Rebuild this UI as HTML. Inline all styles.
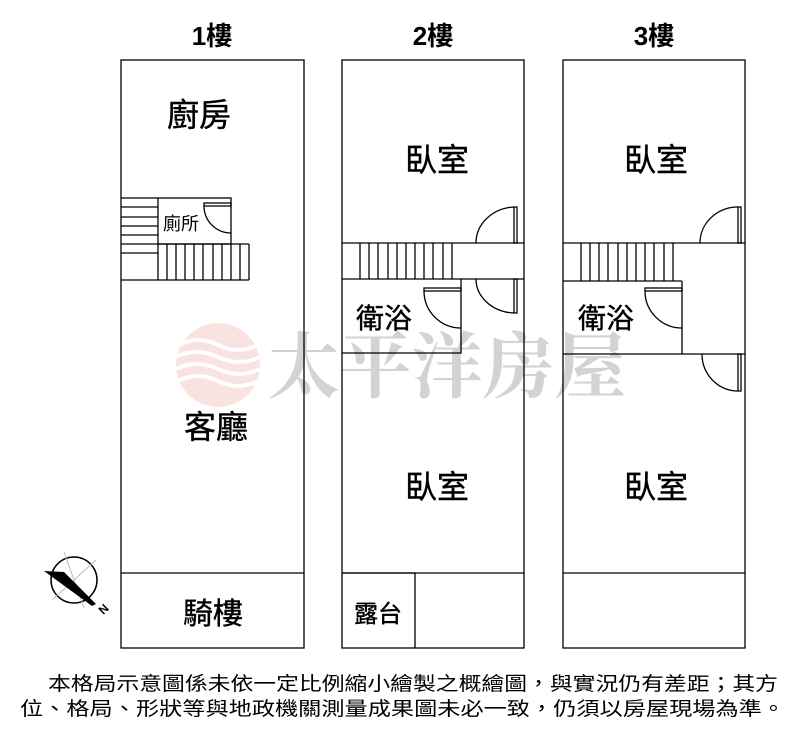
<!DOCTYPE html>
<html><head><meta charset="utf-8"><style>
html,body{margin:0;padding:0;background:#fff;}
svg{display:block;}
text{font-family:"Liberation Sans","Noto Sans CJK TC",sans-serif;fill:#000;}
</style></head><body>
<svg width="800" height="729" viewBox="0 0 800 729" xmlns="http://www.w3.org/2000/svg">
<!-- watermark -->
<g opacity="0.5">
  <circle cx="218" cy="365" r="42" fill="#f4c8c2"/>
  <g stroke="#fff" stroke-width="4" fill="none">
    <path d="M178 345 q20 -10 40 0 t40 0"/>
    <path d="M176 357 q20 -10 42 0 t42 0"/>
    <path d="M176 369 q20 -10 42 0 t42 0"/>
    <path d="M178 381 q20 -10 40 0 t40 0"/>
  </g>
  <text x="268" y="392" font-size="72" font-weight="bold" style="font-family:'Noto Serif CJK SC','Liberation Serif',serif;fill:#a8a8a8" textLength="358" lengthAdjust="spacingAndGlyphs">太平洋房屋</text>
</g>
<g stroke="#000" stroke-width="1.3" fill="none">
  <!-- 1F -->
  <rect x="121" y="60" width="183" height="588"/>
  <line x1="121" y1="573" x2="304" y2="573"/>
  <rect x="158" y="198" width="73" height="46"/>
  <line x1="121" y1="198" x2="158" y2="198"/>
  <line x1="121" y1="207" x2="158" y2="207"/>
  <line x1="121" y1="217" x2="158" y2="217"/>
  <line x1="121" y1="226" x2="158" y2="226"/>
  <line x1="121" y1="235" x2="158" y2="235"/>
  <line x1="121" y1="244" x2="249" y2="244"/>
  <line x1="121" y1="253" x2="158" y2="253"/>
  <line x1="121" y1="280" x2="249" y2="280"/>
  <line x1="249" y1="244" x2="249" y2="280"/>
  <g>
    <line x1="158" y1="244" x2="158" y2="280"/><line x1="167" y1="244" x2="167" y2="280"/><line x1="176" y1="244" x2="176" y2="280"/><line x1="185" y1="244" x2="185" y2="280"/><line x1="194" y1="244" x2="194" y2="280"/><line x1="203" y1="244" x2="203" y2="280"/><line x1="213" y1="244" x2="213" y2="280"/><line x1="222" y1="244" x2="222" y2="280"/><line x1="231" y1="244" x2="231" y2="280"/><line x1="240" y1="244" x2="240" y2="280"/>
  </g>
  <rect x="204" y="203" width="27" height="3"/>
  <path d="M204 206 A27 27 0 0 0 231 233"/>
  <!-- 2F -->
  <rect x="342" y="60" width="182" height="588"/>
  <line x1="342" y1="573" x2="524" y2="573"/>
  <polyline points="342,573 415,573 415,648"/>
  <line x1="342" y1="243" x2="524" y2="243"/>
  <line x1="342" y1="279" x2="524" y2="279"/>
  <line x1="452" y1="243" x2="452" y2="279"/>
  <g>
    <line x1="360" y1="243" x2="360" y2="279"/><line x1="369" y1="243" x2="369" y2="279"/><line x1="378" y1="243" x2="378" y2="279"/><line x1="388" y1="243" x2="388" y2="279"/><line x1="397" y1="243" x2="397" y2="279"/><line x1="406" y1="243" x2="406" y2="279"/><line x1="415" y1="243" x2="415" y2="279"/><line x1="424" y1="243" x2="424" y2="279"/><line x1="433" y1="243" x2="433" y2="279"/><line x1="443" y1="243" x2="443" y2="279"/>
  </g>
  <polyline points="461,279 461,353 342,353"/>
  <rect x="514" y="207" width="3" height="36"/>
  <path d="M476 243 A40 36 0 0 1 514 207"/>
  <rect x="514" y="279" width="3" height="34"/>
  <path d="M476 279 A40 34 0 0 0 514 313"/>
  <rect x="424" y="288" width="37" height="3"/>
  <path d="M424 291 A37 37 0 0 0 461 328"/>
  <!-- 3F -->
  <rect x="563" y="60" width="182" height="588"/>
  <line x1="563" y1="573" x2="745" y2="573"/>
  <line x1="563" y1="243" x2="745" y2="243"/>
  <line x1="563" y1="281" x2="682" y2="281"/>
  <line x1="673" y1="243" x2="673" y2="281"/>
  <g>
    <line x1="581" y1="243" x2="581" y2="281"/><line x1="590" y1="243" x2="590" y2="281"/><line x1="599" y1="243" x2="599" y2="281"/><line x1="608" y1="243" x2="608" y2="281"/><line x1="618" y1="243" x2="618" y2="281"/><line x1="627" y1="243" x2="627" y2="281"/><line x1="636" y1="243" x2="636" y2="281"/><line x1="645" y1="243" x2="645" y2="281"/><line x1="654" y1="243" x2="654" y2="281"/><line x1="664" y1="243" x2="664" y2="281"/>
  </g>
  <line x1="682" y1="281" x2="682" y2="354"/>
  <line x1="563" y1="354" x2="745" y2="354"/>
  <rect x="738" y="207" width="3" height="36"/>
  <path d="M700 243 A38 36 0 0 1 738 207"/>
  <rect x="738" y="354" width="3" height="37"/>
  <path d="M702 354 A36 37 0 0 0 738 391"/>
  <rect x="645" y="288" width="37" height="3"/>
  <path d="M645 291 A37 37 0 0 0 682 328"/>
  <!-- compass -->
  <circle cx="74" cy="580" r="23" stroke-width="1.5"/>
</g>
<g stroke="#bbb" stroke-width="1" fill="none">
  <line x1="64" y1="552" x2="84" y2="608"/>
  <line x1="52" y1="600" x2="96" y2="560"/>
</g>
<polygon points="44,571 64,572 96,604 92,606" fill="#000"/>
<text x="98" y="614" font-size="12" font-weight="bold" transform="rotate(-45 102 608)">N</text>
<!-- labels -->
<g font-weight="bold" font-size="26" text-anchor="middle">
  <text x="212" y="45">1樓</text>
  <text x="433" y="45">2樓</text>
  <text x="654" y="45">3樓</text>
</g>
<g font-size="32" text-anchor="middle" stroke="#000" stroke-width="0.4">
  <text x="199" y="126">廚房</text>
  <text x="216" y="438">客廳</text>
  <text x="213" y="624" font-size="30">騎樓</text>
  <text x="437" y="171">臥室</text>
  <text x="437" y="498">臥室</text>
  <text x="656" y="171">臥室</text>
  <text x="656" y="498">臥室</text>
  <text x="384" y="328" font-size="28">衛浴</text>
  <text x="606" y="328" font-size="28">衛浴</text>
  <text x="378" y="622" font-size="24">露台</text>
  <text x="181" y="230" font-size="18" stroke-width="0">廁所</text>
</g>
<text x="48" y="690" font-size="19" textLength="730" lengthAdjust="spacingAndGlyphs">本格局示意圖係未依一定比例縮小繪製之概繪圖，與實況仍有差距；其方</text>
<text x="20" y="715" font-size="19" textLength="765" lengthAdjust="spacingAndGlyphs">位、格局、形狀等與地政機關測量成果圖未必一致，仍須以房屋現場為準。</text>
</svg>
</body></html>
